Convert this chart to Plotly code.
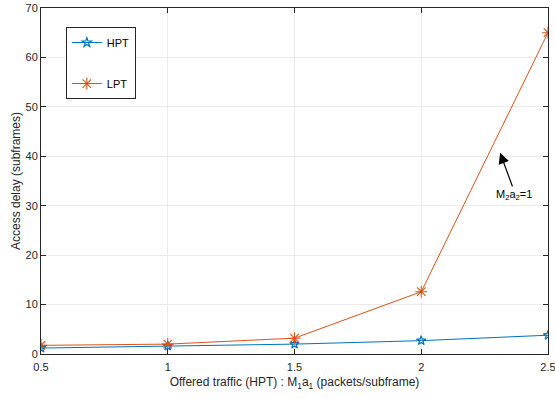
import plotly.graph_objects as go

# Offered traffic (HPT) values on the x axis
traffic = [0.5, 1.0, 1.5, 2.0, 2.5]
# Mean access delay (subframes) per traffic class
hpt_delay = [1.2, 1.6, 2.0, 2.7, 3.8]
lpt_delay = [1.75, 2.0, 3.2, 12.6, 65.0]

x_ticks = [0.5, 1, 1.5, 2, 2.5]
x_tick_text = ["0.5", "1", "1.5", "2", "2.5"]
y_ticks = [0, 10, 20, 30, 40, 50, 60, 70]

BLUE = "#0072BD"
ORANGE = "#D95319"
AXIS = "#262626"
GRID = "#ebebeb"
FONT = "Liberation Sans, Arial, sans-serif"

fig = go.Figure()
fig.add_trace(go.Scatter(
    x=traffic, y=hpt_delay, name="HPT", mode="lines+markers",
    line=dict(color=BLUE, width=1),
    marker=dict(symbol="star-open", size=7, color=BLUE, line=dict(width=1.2, color=BLUE)),
    legendgroup="a",
))
fig.add_trace(go.Scatter(
    x=traffic, y=lpt_delay, name="LPT", mode="lines+markers",
    line=dict(color=ORANGE, width=1),
    marker=dict(symbol="asterisk-open", size=10, color=ORANGE, line=dict(width=1.1, color=ORANGE)),
    legendgroup="b",
))

# Arrow pointing at the LPT curve, with its label below
fig.add_annotation(
    x=2.311, y=40.7, ax=2.362, ay=33.6, xref="x", yref="y", axref="x", ayref="y",
    text="", showarrow=True, arrowhead=2, arrowsize=1.8, arrowwidth=1.2, arrowcolor="black",
)
fig.add_annotation(
    x=2.365, y=32.2, xref="x", yref="y", text="M<sub>2</sub>a<sub>2</sub>=1",
    showarrow=False, font=dict(family=FONT, size=11, color="black"),
)

axis_common = dict(
    showline=True, linecolor=AXIS, linewidth=1, mirror="ticks",
    ticks="inside", ticklen=5, tickcolor=AXIS, tickwidth=1,
    showgrid=True, gridcolor=GRID, gridwidth=1, zeroline=False,
    tickfont=dict(family=FONT, size=11, color=AXIS),
    automargin=False, ticklabeloverflow="allow",
)

fig.update_layout(
    width=555, height=399,
    margin=dict(l=41, r=7, t=8, b=45),
    paper_bgcolor="white", plot_bgcolor="white",
    font=dict(family=FONT, size=11, color=AXIS),
    xaxis=dict(
        range=[0.5, 2.5], tickvals=x_ticks, ticktext=x_tick_text,
        ticklabelstandoff=3,
        title=dict(text="Offered traffic (HPT) : M<sub>1</sub>a<sub>1</sub> (packets/subframe)",
                   font=dict(family=FONT, size=12, color=AXIS), standoff=5),
        **axis_common,
    ),
    yaxis=dict(
        range=[0, 70], tickvals=y_ticks,
        title=dict(text="Access delay (subframes)",
                   font=dict(family=FONT, size=12, color=AXIS), standoff=2),
        **axis_common,
    ),
    legend=dict(
        x=0.049, y=0.945, xanchor="left", yanchor="top",
        bordercolor=AXIS, borderwidth=1, bgcolor="white",
        font=dict(family=FONT, size=11, color="black"),
        tracegroupgap=22, itemwidth=30,
    ),
)

fig.write_html("out.html")
